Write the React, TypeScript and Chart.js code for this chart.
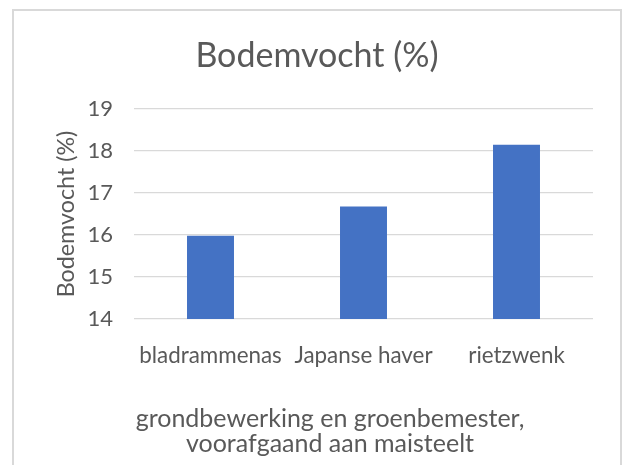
import React, { useEffect, useRef } from "react";
import { Chart, registerables } from "chart.js";

Chart.register(...registerables);

const categories = ["bladrammenas", "Japanse haver", "rietzwenk"];
const values = [15.98, 16.68, 18.15];
const chartTitle = "Bodemvocht (%)";
const yAxisTitle = "Bodemvocht (%)";
const xAxisTitleLines = ["grondbewerking en groenbemester,", "voorafgaand aan maisteelt"];
const yMin = 14;
const yMax = 19;

const TEXT = "#595959";
const GRID = "#d9d9d9";
const BAR = "#4472C4";
const FONT = "Lato, 'Open Sans', sans-serif";

const xTitlePlugin = {
  id: "xTitleLines",
  afterDraw(chart: any) {
    const ctx = chart.ctx;
    ctx.save();
    ctx.font = `25px ${FONT}`;
    ctx.fillStyle = TEXT;
    ctx.textAlign = "center";
    ctx.textBaseline = "alphabetic";
    const cx = chart.width / 2 + 13;
    xAxisTitleLines.forEach((t, i) => ctx.fillText(t, cx, 416 + i * 25));
    ctx.restore();
  },
};

export default function App() {
  const ref = useRef<HTMLCanvasElement>(null);
  useEffect(() => {
    if (!ref.current) return;
    const chart = new Chart(ref.current, {
      type: "bar",
      data: {
        labels: categories,
        datasets: [
          {
            data: values,
            backgroundColor: BAR,
            borderWidth: 0,
            categoryPercentage: 1,
            barPercentage: 0.307,
          },
        ],
      },
      options: {
        animation: false,
        responsive: false,
        maintainAspectRatio: false,
        layout: { padding: { left: 27, right: 27, top: 0, bottom: 0 } },
        plugins: {
          legend: { display: false },
          tooltip: { enabled: false },
          title: {
            display: true,
            text: chartTitle,
            color: TEXT,
            font: { family: FONT, size: 34, weight: "normal" },
            padding: { top: 25, bottom: 32.2 },
          },
        },
        scales: {
          x: {
            grid: { display: false, drawTicks: false },
            border: { display: false },
            ticks: {
              color: TEXT,
              font: { family: FONT, size: 22.4 },
              padding: 23,
              maxRotation: 0,
              autoSkip: false,
            },
            afterFit: (s: any) => {
              s.height = 146;
            },
          },
          y: {
            min: yMin,
            max: yMax,
            grid: { color: GRID, lineWidth: 1.3, drawTicks: false },
            border: { display: false },
            ticks: {
              stepSize: 1,
              color: TEXT,
              font: { family: FONT, size: 22 },
              padding: 21,
            },
            title: {
              display: true,
              text: yAxisTitle,
              color: TEXT,
              font: { family: FONT, size: 23.3 },
              padding: { top: 11, bottom: 0 },
            },
            afterFit: (s: any) => {
              s.width = 93;
            },
          },
        },
      },
      plugins: [xTitlePlugin],
    });
    return () => chart.destroy();
  }, []);

  return (
    <div style={{ position: "fixed", left: 0, top: 0, width: 622, height: 465, background: "#fff", overflow: "hidden" }}>
      <div
        style={{
          position: "absolute",
          left: 12,
          top: 9,
          width: 610,
          height: 470,
          boxSizing: "border-box",
          border: "2px solid #d9d9d9",
          borderBottom: "none",
        }}
      >
        <canvas ref={ref} width={606} height={454} style={{ display: "block", width: 606, height: 454 }} />
      </div>
    </div>
  );
}
